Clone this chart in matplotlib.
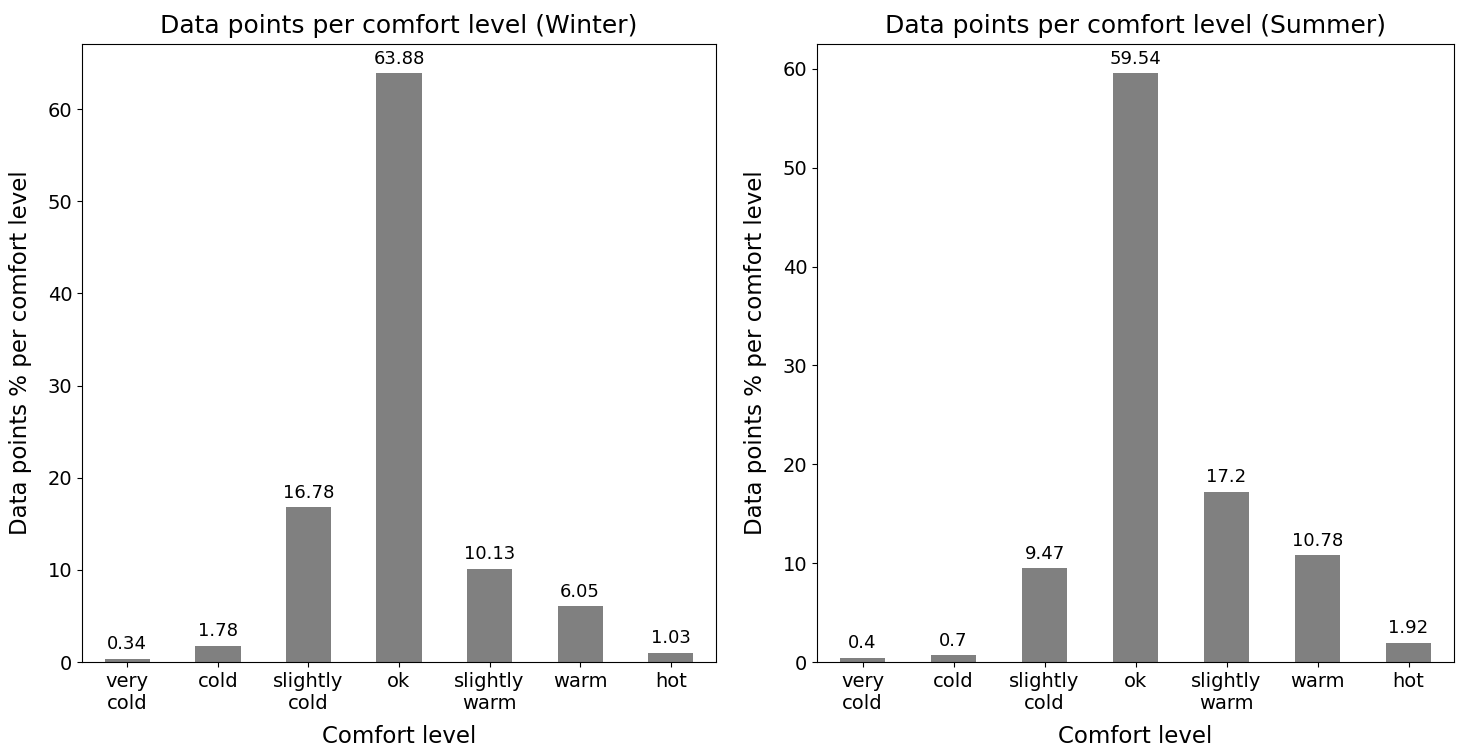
import numpy as np
import matplotlib.pyplot as plt

levels = ['very\ncold', 'cold', 'slightly\ncold', 'ok', 'slightly\nwarm', 'warm', 'hot']
winter = [0.34, 1.78, 16.78, 63.88, 10.13, 6.05, 1.03]
summer = [0.4, 0.7, 9.47, 59.54, 17.2, 10.78, 1.92]


def plot_season(ax, values, season):
    x = np.arange(len(levels))
    bars = ax.bar(x, values, width=0.5, color='grey')
    ax.set_xlim(-0.5, len(levels) - 0.5)
    ax.set_xticks(x)
    ax.set_xticklabels(levels, fontsize=14)
    ax.tick_params(axis='y', labelsize=14)
    for b, v in zip(bars, values):
        ax.annotate(
            f'{v:g}',
            (b.get_x() + b.get_width() / 2, b.get_height()),
            xytext=(0, 4),
            textcoords='offset points',
            ha='center',
            va='bottom',
            fontsize=13,
        )
    ax.set_title(f'Data points per comfort level ({season})', fontsize=18, pad=8)
    ax.set_xlabel('Comfort level', fontsize=16.5, labelpad=9)
    ax.set_ylabel('Data points % per comfort level', fontsize=16.5, labelpad=11)


fig = plt.figure(figsize=(14.57, 7.49), dpi=100)
ax1 = fig.add_axes([82 / 1457, 1 - 662 / 749, 634 / 1457, 618 / 749])
ax2 = fig.add_axes([817 / 1457, 1 - 662 / 749, 637 / 1457, 618 / 749])
plot_season(ax1, winter, 'Winter')
plot_season(ax2, summer, 'Summer')

plt.savefig('out.png', dpi=100)
